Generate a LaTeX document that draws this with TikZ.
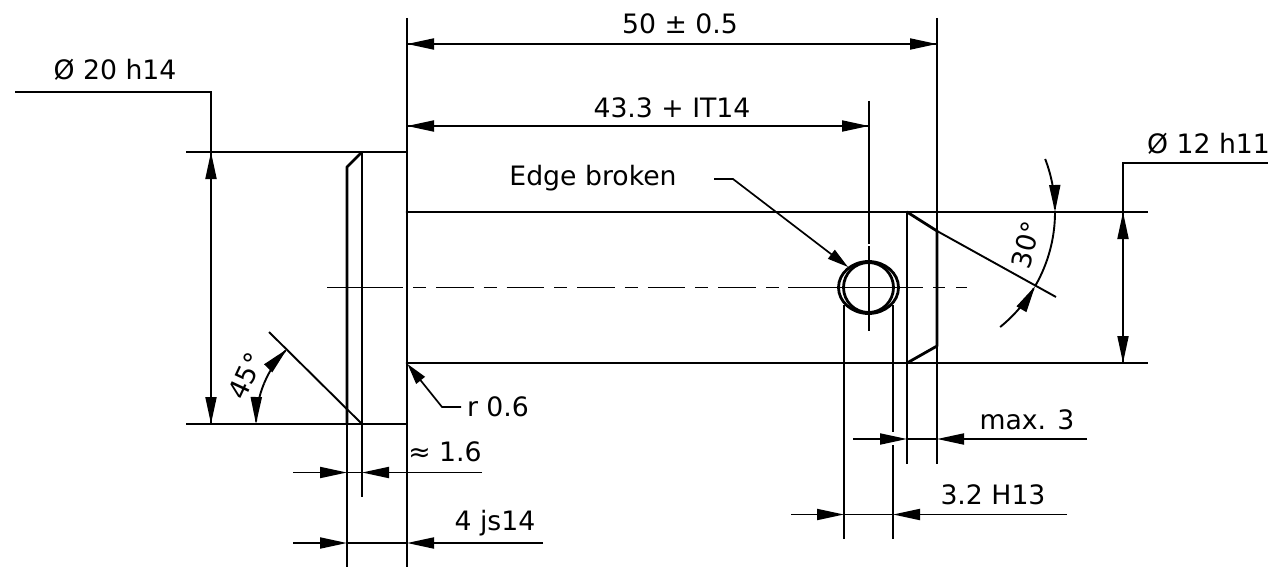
\documentclass[tikz,border=0pt]{standalone}
\usepackage{fontspec}
\setmainfont{DejaVu Sans}
\usetikzlibrary{arrows.meta}
\tikzset{
  obj/.style={line width=2.8pt,line cap=round,line join=round},
  thin line/.style={line width=1.9pt},
  centre/.style={line width=1.6pt},
  dimtip/.style={line width=1.9pt,-{Triangle[length=27pt,width=11pt]}},
  leadtip/.style={line width=1.7pt,-{Triangle[length=21pt,width=11pt]}},
  lbl/.style={inner sep=0pt,font=\fontsize{26.7}{30}\selectfont,text=black},
  centre dash/.style={line width=1.6pt,dash pattern=on 13pt off 10pt on 37.6pt off 10pt}
}
\begin{document}
\begin{tikzpicture}[x=1pt,y=-1pt]
\useasboundingbox (0,0) rectangle (1268,567);
\fill[white] (0,0) rectangle (1268,567);
% key points
\coordinate (hTL) at (362,152);
\coordinate (hBL) at (362,424);
\coordinate (hTR) at (407,152);
\coordinate (hBR) at (407,424);
\coordinate (chT) at (347,167);
\coordinate (sTR) at (907,212);
\coordinate (sBR) at (907,363);
\coordinate (sTL) at (407,212);
\coordinate (sBL) at (407,363);
\coordinate (cTR) at (937,231);
\coordinate (cBR) at (937,346);
\coordinate (hole) at (868.5,287.5);
% centre line
\draw[centre] (327,287.5) -- (403,287.5);
\draw[centre dash] (413,287.5) -- (780,287.5);
\draw[centre] (788,287.5) -- (923,287.5);
\draw[centre] (933,287.5) -- (945,287.5);
\draw[centre] (956,287.5) -- (967,287.5);
% hole axis
\draw[thin line] (869,101) -- (869,244);
\draw[line width=1.2pt] (869,246) -- (869,331);
% extension lines
\draw[thin line] (407,18) -- (hTR);
\draw[thin line] (hBR) -- (407,567);
\draw[thin line] (937,18) -- (cTR);
\draw[thin line] (cBR) -- (937,464);
\draw[thin line] (sBR) -- (907,464);
\draw[thin line] (347,424) -- (347,567);
\draw[thin line] (hBL) -- (362,497);
\draw[thin line] (844,305) -- (844,539);
\draw[thin line] (893,305) -- (893,432);
\draw[thin line] (893,445) -- (893,539);
\draw[thin line] (186,152) -- (hTL);
\draw[thin line] (186,424) -- (hBL);
\draw[thin line] (sTR) -- (1148,212);
\draw[thin line] (sBR) -- (1148,363);
\draw[thin line] (hBL) -- (269,332);
\draw[thin line] (cTR) -- (1056,297);
% object lines
\draw[obj] (hBL) -- (hTL) -- (hTR) -- (hBR) -- (hBL);
\draw[obj] (hTL) -- (chT) -- (347,424);
\draw[obj] (sTL) -- (sTR) -- (sBR) -- (sBL);
\draw[obj] (sTR) -- (cTR) -- (cBR) -- (sBR);
\draw[obj] (hole) circle[radius=25];
\draw[obj] (hole) ellipse[x radius=30,y radius=26];
% vertical dims
\coordinate (d20a) at (211,92);
\coordinate (d20b) at (211,152);
\coordinate (d20c) at (211,424);
\draw[thin line] (15,92) -- (d20a) -- (d20b);
\draw[dimtip] (d20c) -- (d20b);
\draw[dimtip] (d20b) -- (d20c);
\node[lbl] (t20) at (115,70) {Ø 20 h14};
\coordinate (d12a) at (1123,163);
\coordinate (d12b) at (1123,212);
\coordinate (d12c) at (1123,363);
\draw[thin line] (1268,163) -- (d12a) -- (d12b);
\draw[dimtip] (d12c) -- (d12b);
\draw[dimtip] (d12b) -- (d12c);
\node[lbl] (t12) at (1208.5,144) {Ø 12 h11};
% horizontal dims
\draw[dimtip] (937,44) -- (407,44);
\draw[dimtip] (407,44) -- (937,44);
\node[lbl] (t50) at (680,24) {50 ± 0.5};
\draw[dimtip] (869,126) -- (407,126);
\draw[dimtip] (407,126) -- (869,126);
\node[lbl] (t43) at (672,108) {43.3 + IT14};
% bottom dims
\draw[dimtip] (293,472.5) -- (347,472.5);
\draw[dimtip] (482,472.5) -- (362,472.5);
\draw[thin line] (347,472.5) -- (362,472.5);
\node[lbl] (t16) at (445,452) {≈ 1.6};
\draw[dimtip] (293,543) -- (347,543);
\draw[dimtip] (543,543) -- (407,543);
\draw[thin line] (347,543) -- (407,543);
\node[lbl] (t4) at (495,523) {4 js14};
\draw[dimtip] (853,439) -- (907,439);
\draw[dimtip] (1087,439) -- (937,439);
\draw[thin line] (907,439) -- (937,439);
\node[lbl] (tm) at (1027,420) {max. 3};
\draw[dimtip] (791,514.5) -- (844,514.5);
\draw[dimtip] (1067,514.5) -- (893,514.5);
\draw[thin line] (844,514.5) -- (893,514.5);
\node[lbl] (t32) at (993,495) {3.2 H13};
% leaders
\node[lbl] (teb) at (593,178) {Edge broken};
\draw[leadtip] (714,179) -- (733,179) -- (848,267);
\node[lbl] (tr) at (498,407) {r 0.6};
\draw[leadtip] (461,407) -- (442,407) -- (407.5,364);
% angles: arcs about their vertices
\draw[dimtip,smooth,samples=16,domain=157.5:180] plot ({362+106*cos(\x)},{424-106*sin(\x)});
\draw[dimtip,smooth,samples=16,domain=157.5:135] plot ({362+106*cos(\x)},{424-106*sin(\x)});
\node[lbl,rotate=65] (t45) at (246,376) {45°};
\draw[dimtip,smooth,samples=16,domain=21:0] plot ({907+148*cos(\x)},{212-148*sin(\x)});
\draw[thin line,smooth,samples=16,domain=0:-30] plot ({907+148*cos(\x)},{212-148*sin(\x)});
\draw[dimtip,smooth,samples=16,domain=-51:-30] plot ({907+148*cos(\x)},{212-148*sin(\x)});
\node[lbl,rotate=75] (t30) at (1026,245) {30°};
\end{tikzpicture}
\end{document}
